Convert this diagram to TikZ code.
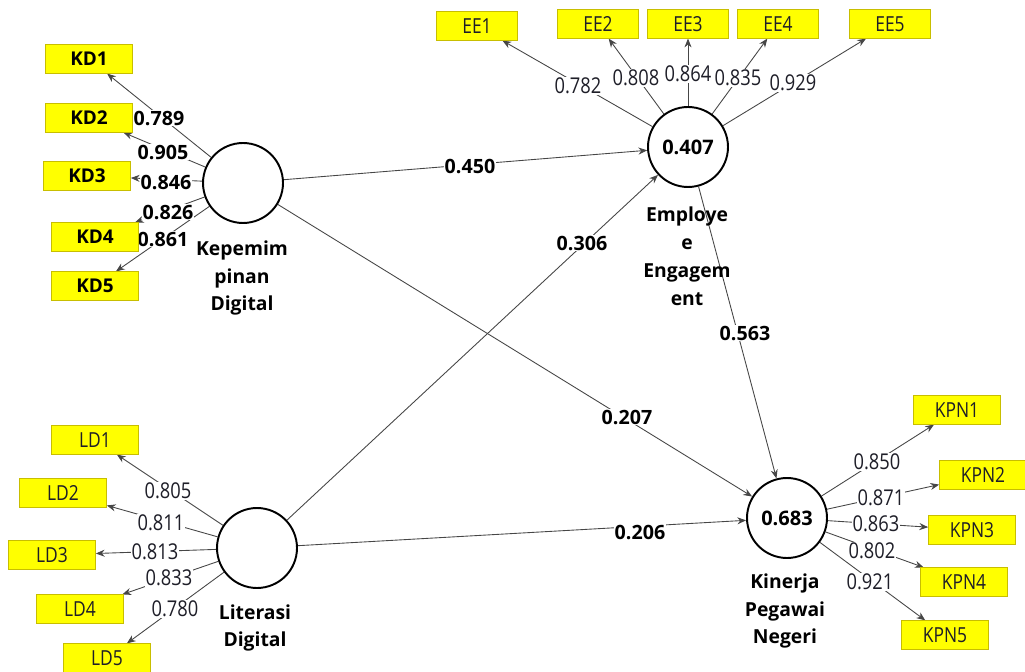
\documentclass[tikz,border=0pt]{standalone}
\usepackage{fontspec}
\setmainfont{Open Sans}
\newfontfamily\narrowfont[FakeStretch=0.84]{Open Sans}
\usetikzlibrary{arrows.meta}
\pgfdeclarelayer{lines}
\pgfdeclarelayer{labels}
\pgfsetlayers{lines,labels,main}
\definecolor{boxline}{RGB}{200,190,0}
\definecolor{boxfill}{RGB}{255,255,0}
\definecolor{linecol}{RGB}{70,70,70}
\definecolor{txt}{RGB}{30,30,40}
\begin{document}
\begin{tikzpicture}[x=0.02cm,y=-0.02cm,
  ind/.style={draw=boxline, fill=boxfill, minimum width=1.74cm, minimum height=0.57cm, inner sep=0pt, text=txt, font=\narrowfont\fontsize{11.8}{13}\selectfont},
  indb/.style={ind, font=\fontsize{10.8}{12}\selectfont\bfseries, text=black},
  lv/.style={circle, draw=black, line width=1.1pt, fill=white, minimum size=1.6cm, inner sep=0pt, font=\fontsize{11.4}{13}\selectfont\bfseries},
  ldg/.style={draw=linecol, line width=0.5pt, -{Stealth[length=5pt,width=4pt]}},
  path/.style={draw=linecol, line width=0.5pt, -{Stealth[length=5pt,width=4pt]}},
  lbl/.style={fill=white, inner sep=0.6pt, text=txt, font=\narrowfont\fontsize{12.4}{13}\selectfont},
  blbl/.style={fill=white, inner sep=0.6pt, text=black, font=\fontsize{11.2}{13}\selectfont\bfseries},
  lvname/.style={align=center, text=black, font=\fontsize{11}{15.9}\selectfont\bfseries}
]
\useasboundingbox (0,0) rectangle (1025,672);

% latent variables
\node[lv] (KD) at (243,183) {};
\node[lv] (EE) at (688,147) {0.407};
\node[lv] (LD) at (257,548) {};
\node[lv] (KPN) at (787,518) {0.683};

% latent names
\node[lvname] (KDn) at (242,278) {Kepemim\\pinan\\Digital};
\node[lvname] (EEn) at (687,256) {Employe\\e\\Engagem\\ent};
\node[lvname] (LDn) at (255,628) {Literasi\\Digital};
\node[lvname] (KPNn) at (785,611) {Kinerja\\Pegawai\\Negeri};

% indicators
\node[indb] (KD1) at (89,59) {KD1};
\node[indb] (KD2) at (89,118) {KD2};
\node[indb] (KD3) at (87,176) {KD3};
\node[indb] (KD4) at (95,237) {KD4};
\node[indb] (KD5) at (95,286) {KD5};

\node[ind, minimum width=1.63cm] (EE1) at (477,26) {EE1};
\node[ind, minimum width=1.63cm] (EE2) at (598,24) {EE2};
\node[ind, minimum width=1.63cm] (EE3) at (688,24) {EE3};
\node[ind, minimum width=1.63cm] (EE4) at (778,24) {EE4};
\node[ind, minimum width=1.63cm] (EE5) at (890,24) {EE5};

\node[ind] (LD1) at (95,440) {LD1};
\node[ind] (LD2) at (63,493) {LD2};
\node[ind] (LD3) at (52,555) {LD3};
\node[ind] (LD4) at (80,609) {LD4};
\node[ind] (LD5) at (107,658) {LD5};

\node[ind] (KPN1) at (957,410) {KPN1};
\node[ind] (KPN2) at (983,475) {KPN2};
\node[ind] (KPN3) at (972,530) {KPN3};
\node[ind] (KPN4) at (964,582) {KPN4};
\node[ind] (KPN5) at (945,635) {KPN5};

\begin{pgfonlayer}{lines}
\foreach \i in {1,...,5} {
  \draw[ldg] (KD) -- (KD\i);
  \draw[ldg] (EE) -- (EE\i);
  \draw[ldg] (LD) -- (LD\i);
  \draw[ldg] (KPN) -- (KPN\i);
}
\draw[path] (KD) -- (EE);
\draw[path] (LD) -- (EE);
\draw[path] (EE) -- (KPN);
\draw[path] (KD) -- (KPN);
\draw[path] (LD) -- (KPN);
\end{pgfonlayer}

\begin{pgfonlayer}{labels}
% KD loadings
\node[blbl] (l1) at (159,118) {0.789};
\node[blbl] (l2) at (163,152) {0.905};
\node[blbl] (l3) at (166,182) {0.846};
\node[blbl] (l4) at (168,212) {0.826};
\node[blbl] (l5) at (163,239) {0.861};
% EE loadings
\node[lbl] (e1) at (578,86) {0.782};
\node[lbl] (e2) at (636,78) {0.808};
\node[lbl] (e3) at (688,74) {0.864};
\node[lbl] (e4) at (738,78) {0.835};
\node[lbl] (e5) at (793,83) {0.929};
% LD loadings
\node[lbl] (d1) at (168,491) {0.805};
\node[lbl] (d2) at (161,523) {0.811};
\node[lbl] (d3) at (155,552) {0.813};
\node[lbl] (d4) at (169,578) {0.833};
\node[lbl] (d5) at (175,609) {0.780};
% KPN loadings
\node[lbl] (k1) at (877,462) {0.850};
\node[lbl] (k2) at (881,498) {0.871};
\node[lbl] (k3) at (876,524) {0.863};
\node[lbl] (k4) at (872,551) {0.802};
\node[lbl] (k5) at (870,582) {0.921};
% path coefficients
\node[blbl] (p1) at (470,166) {0.450};
\node[blbl] (p2) at (582,243) {0.306};
\node[blbl] (p3) at (745,333) {0.563};
\node[blbl] (p4) at (627,417) {0.207};
\node[blbl] (p5) at (640,532) {0.206};
\end{pgfonlayer}
\end{tikzpicture}
\end{document}
